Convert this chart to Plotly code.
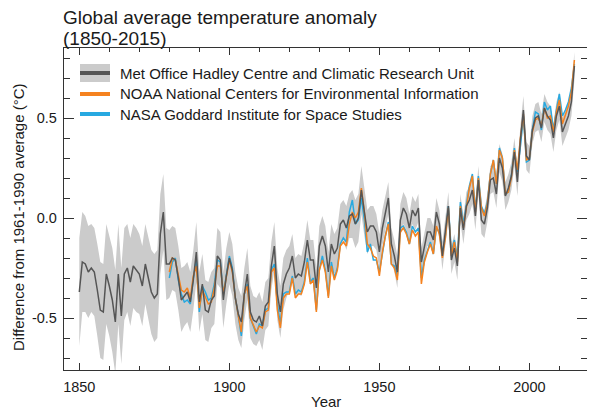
import plotly.graph_objects as go

# HadCRUT4 annual anomaly (deg C, vs 1961-1990), 1850-2015
had_years = list(range(1850, 2016))
had_vals = [
    -0.37, -0.22, -0.23, -0.27, -0.25, -0.27, -0.36, -0.46, -0.47, -0.28,
    -0.34, -0.41, -0.52, -0.28, -0.49, -0.28, -0.25, -0.32, -0.24, -0.26,
    -0.28, -0.34, -0.23, -0.30, -0.37, -0.40, -0.38, -0.08, 0.03, -0.23,
    -0.23, -0.20, -0.21, -0.30, -0.41, -0.39, -0.37, -0.42, -0.31, -0.17,
    -0.42, -0.33, -0.46, -0.47, -0.41, -0.39, -0.19, -0.21, -0.41, -0.29,
    -0.20, -0.26, -0.40, -0.48, -0.52, -0.38, -0.28, -0.47, -0.51, -0.52,
    -0.49, -0.54, -0.44, -0.42, -0.24, -0.14, -0.38, -0.47, -0.33, -0.28,
    -0.25, -0.19, -0.30, -0.28, -0.29, -0.22, -0.11, -0.21, -0.21, -0.35,
    -0.14, -0.09, -0.14, -0.27, -0.13, -0.18, -0.15, -0.03, -0.01, -0.05,
    0.01, 0.02, -0.03, 0.00, 0.14, 0.03, -0.07, -0.04, -0.04, -0.07,
    -0.17, -0.05, 0.03, 0.10, -0.13, -0.19, -0.27, -0.01, 0.05, 0.02,
    -0.05, 0.04, 0.01, 0.05, -0.22, -0.14, -0.07, -0.07, -0.11, 0.03,
    -0.03, -0.19, -0.07, 0.06, -0.21, -0.15, -0.24, 0.05, -0.06, 0.06,
    0.09, 0.14, 0.01, 0.19, -0.01, -0.03, 0.05, 0.19, 0.20, 0.12,
    0.30, 0.25, 0.11, 0.15, 0.21, 0.33, 0.18, 0.39, 0.54, 0.31,
    0.29, 0.44, 0.50, 0.51, 0.45, 0.55, 0.51, 0.49, 0.40, 0.51,
    0.56, 0.43, 0.47, 0.51, 0.58, 0.76,
]
# half width of the grey uncertainty band
had_unc = [
    0.27, 0.25, 0.24, 0.23, 0.22, 0.22, 0.23, 0.24, 0.24, 0.25,
    0.25, 0.26, 0.26, 0.25, 0.24, 0.23, 0.22, 0.22, 0.21, 0.21,
    0.20, 0.20, 0.20, 0.21, 0.21, 0.22, 0.22, 0.20, 0.19, 0.18,
    0.17, 0.16, 0.16, 0.16, 0.16, 0.15, 0.15, 0.15, 0.15, 0.15,
    0.15, 0.15, 0.15, 0.15, 0.14, 0.14, 0.14, 0.14, 0.14, 0.14,
    0.13, 0.13, 0.13, 0.13, 0.13, 0.13, 0.13, 0.13, 0.12, 0.12,
    0.12, 0.12, 0.12, 0.12, 0.12, 0.12, 0.13, 0.13, 0.13, 0.12,
    0.11, 0.11, 0.10, 0.10, 0.10, 0.10, 0.10, 0.10, 0.10, 0.10,
    0.10, 0.10, 0.10, 0.10, 0.10, 0.10, 0.10, 0.10, 0.10, 0.11,
    0.11, 0.12, 0.12, 0.12, 0.12, 0.12, 0.11, 0.10, 0.10, 0.09,
    0.09, 0.09, 0.09, 0.08, 0.08, 0.08, 0.08, 0.08, 0.08, 0.08,
    0.07, 0.07, 0.07, 0.07, 0.07, 0.07, 0.07, 0.07, 0.07, 0.07,
    0.07, 0.07, 0.07, 0.07, 0.07, 0.07, 0.07, 0.07, 0.07, 0.07,
    0.07, 0.07, 0.07, 0.07, 0.07, 0.07, 0.07, 0.07, 0.07, 0.07,
    0.07, 0.07, 0.07, 0.07, 0.07, 0.07, 0.07, 0.07, 0.07, 0.07,
    0.07, 0.07, 0.07, 0.07, 0.07, 0.07, 0.07, 0.07, 0.07, 0.07,
    0.07, 0.07, 0.07, 0.07, 0.07, 0.07,
]

# NOAA and NASA, 1880-2015, same baseline
nc_years = list(range(1880, 2016))
noaa_vals = [
    -0.27, -0.20, -0.21, -0.29, -0.36, -0.37, -0.35, -0.40, -0.29, -0.24,
    -0.45, -0.36, -0.40, -0.43, -0.42, -0.35, -0.24, -0.24, -0.38, -0.30,
    -0.21, -0.27, -0.40, -0.49, -0.57, -0.38, -0.34, -0.50, -0.54, -0.57,
    -0.54, -0.55, -0.47, -0.46, -0.27, -0.25, -0.46, -0.55, -0.40, -0.38,
    -0.38, -0.30, -0.40, -0.38, -0.38, -0.33, -0.22, -0.33, -0.31, -0.47,
    -0.26, -0.21, -0.27, -0.40, -0.24, -0.31, -0.26, -0.14, -0.12, -0.14,
    -0.03, 0.03, 0.00, 0.03, 0.15, 0.03, -0.13, -0.15, -0.19, -0.20,
    -0.29, -0.17, -0.09, -0.03, -0.23, -0.25, -0.31, -0.07, -0.05, -0.08,
    -0.13, -0.06, -0.09, -0.07, -0.33, -0.22, -0.17, -0.13, -0.18, -0.04,
    -0.08, -0.20, -0.10, 0.05, -0.19, -0.12, -0.22, 0.06, -0.05, 0.05,
    0.15, 0.21, 0.03, 0.20, 0.05, 0.01, 0.07, 0.22, 0.29, 0.17,
    0.34, 0.30, 0.12, 0.13, 0.20, 0.34, 0.24, 0.40, 0.52, 0.29,
    0.30, 0.43, 0.49, 0.50, 0.46, 0.55, 0.50, 0.51, 0.43, 0.53,
    0.59, 0.47, 0.51, 0.56, 0.63, 0.79,
]
nasa_vals = [
    -0.30, -0.22, -0.20, -0.31, -0.38, -0.42, -0.41, -0.43, -0.30, -0.21,
    -0.47, -0.34, -0.37, -0.41, -0.40, -0.33, -0.21, -0.22, -0.38, -0.28,
    -0.19, -0.25, -0.40, -0.49, -0.59, -0.38, -0.33, -0.50, -0.54, -0.58,
    -0.53, -0.54, -0.46, -0.45, -0.26, -0.23, -0.43, -0.53, -0.38, -0.37,
    -0.37, -0.29, -0.38, -0.36, -0.37, -0.32, -0.20, -0.32, -0.30, -0.46,
    -0.26, -0.19, -0.26, -0.39, -0.22, -0.30, -0.25, -0.13, -0.10, -0.12,
    0.03, 0.09, -0.03, -0.01, 0.10, -0.01, -0.17, -0.13, -0.21, -0.21,
    -0.27, -0.17, -0.09, -0.02, -0.23, -0.24, -0.29, -0.05, -0.04, -0.07,
    -0.13, -0.04, -0.07, -0.05, -0.30, -0.21, -0.16, -0.12, -0.18, -0.05,
    -0.07, -0.18, -0.09, 0.06, -0.17, -0.11, -0.20, 0.08, -0.03, 0.06,
    0.16, 0.22, 0.04, 0.21, 0.06, 0.02, 0.08, 0.22, 0.29, 0.17,
    0.35, 0.30, 0.12, 0.13, 0.21, 0.35, 0.23, 0.36, 0.51, 0.28,
    0.29, 0.44, 0.53, 0.52, 0.44, 0.58, 0.54, 0.56, 0.44, 0.54,
    0.62, 0.51, 0.54, 0.58, 0.65, 0.77,
]

series_names = [
    "Met Office Hadley Centre and Climatic Research Unit",
    "NOAA National Centers for Environmental Information",
    "NASA Goddard Institute for Space Studies",
]

GREY_BAND = "#cbcbcb"
GREY_LINE = "#555555"
ORANGE = "#f5821f"
BLUE = "#27a9e1"
TXT = "#1a1a1a"
AXC = "#333333"
FONT = "Liberation Sans, Arial, sans-serif"

X_RANGE = [1844.9, 2019.2]
Y_RANGE = [-0.76, 0.85]

had_hi = [v + u for v, u in zip(had_vals, had_unc)]
had_lo = [v - u for v, u in zip(had_vals, had_unc)]

fig = go.Figure()
fig.add_trace(go.Scatter(x=had_years, y=had_hi, mode="lines",
                         line=dict(width=0, color=GREY_BAND),
                         showlegend=False, hoverinfo="skip"))
fig.add_trace(go.Scatter(x=had_years, y=had_lo, mode="lines",
                         line=dict(width=0, color=GREY_BAND),
                         fill="tonexty", fillcolor=GREY_BAND,
                         showlegend=False, hoverinfo="skip"))
fig.add_trace(go.Scatter(x=nc_years, y=nasa_vals, mode="lines",
                         line=dict(width=1.5, color=BLUE),
                         name=series_names[2], showlegend=False))
fig.add_trace(go.Scatter(x=nc_years, y=noaa_vals, mode="lines",
                         line=dict(width=1.5, color=ORANGE),
                         name=series_names[1], showlegend=False))
fig.add_trace(go.Scatter(x=had_years, y=had_vals, mode="lines",
                         line=dict(width=1.5, color=GREY_LINE),
                         name=series_names[0], showlegend=False))
# empty trace so the mirrored top/right axes get drawn (with minor ticks)
fig.add_trace(go.Scatter(x=[None], y=[None], xaxis="x2", yaxis="y2",
                         showlegend=False, hoverinfo="skip"))

# the page body keeps its default 8px margin, so the figure is drawn 8px in
# from the window corner; size it to fit and place things in window pixels
OFF = 8
W, H = 595 - OFF, 414 - OFF
ml, mr, mt, mb = 64 - OFF, W - (587 - OFF), 48 - OFF, H - (370 - OFF)
pw, ph = W - ml - mr, H - mt - mb


def px(x):
    return (x - OFF - ml) / pw


def py(y):
    return 1 - (y - OFF - mt) / ph


rows = [73, 94, 114]
swatch_cols = [GREY_LINE, ORANGE, BLUE]
shapes = [dict(type="rect", xref="paper", yref="paper",
               x0=px(80), x1=px(110), y0=py(rows[0] + 9), y1=py(rows[0] - 9),
               fillcolor=GREY_BAND, line=dict(width=0), layer="above")]
for r, c in zip(rows, swatch_cols):
    shapes.append(dict(type="line", xref="paper", yref="paper",
                       x0=px(80), x1=px(110), y0=py(r), y1=py(r),
                       line=dict(color=c, width=4), layer="above"))
annotations = []
for r, name in zip(rows, series_names):
    annotations.append(dict(text=name, xref="paper", yref="paper",
                            x=px(118), y=py(r), xanchor="left", yanchor="middle",
                            showarrow=False, font=dict(size=15, color=TXT, family=FONT)))

# title, two lines set close together
annotations.append(dict(text="Global average temperature anomaly", xref="paper", yref="paper",
                        x=px(62), y=py(18), xanchor="left", yanchor="middle", borderpad=0,
                        showarrow=False, font=dict(size=19, color=TXT, family=FONT)))
annotations.append(dict(text="(1850-2015)", xref="paper", yref="paper",
                        x=px(62), y=py(38), xanchor="left", yanchor="middle", borderpad=0,
                        showarrow=False, font=dict(size=19, color=TXT, family=FONT)))
# axis titles
annotations.append(dict(text="Year", xref="paper", yref="paper",
                        x=0.5, y=py(401), xanchor="center", yanchor="middle",
                        showarrow=False, font=dict(size=15, color=TXT, family=FONT)))
annotations.append(dict(text="Difference from 1961-1990 average (°C)", xref="paper", yref="paper",
                        x=px(18), y=py(217), xanchor="center", yanchor="middle", textangle=-90,
                        showarrow=False, font=dict(size=15, color=TXT, family=FONT)))

axis_common = dict(
    showline=True, linecolor=AXC, linewidth=1.3,
    ticks="inside", tickcolor=AXC, tickwidth=1.2,
    showgrid=False, zeroline=False, automargin=False,
    tickfont=dict(size=14.5, color=TXT, family=FONT),
)
x_ticks = dict(range=X_RANGE, tickvals=[1850, 1900, 1950, 2000], ticklen=7,
               minor=dict(dtick=10, tick0=1850, ticks="inside", ticklen=4,
                          tickcolor=AXC, tickwidth=1.2))
y_ticks = dict(range=Y_RANGE, tickvals=[-0.5, 0.0, 0.5], ticklen=10,
               minor=dict(dtick=0.1, tick0=0, ticks="inside", ticklen=6,
                          tickcolor=AXC, tickwidth=1.2))

fig.update_layout(
    width=W, height=H,
    margin=dict(l=ml, r=mr, t=mt, b=mb),
    paper_bgcolor="white", plot_bgcolor="white",
    showlegend=False,
    shapes=shapes, annotations=annotations,
    xaxis=dict(axis_common, **x_ticks, ticklabelstandoff=3),
    yaxis=dict(axis_common, **y_ticks, ticktext=["-0.5", "0.0", "0.5"], ticklabelstandoff=3),
    xaxis2=dict(axis_common, **x_ticks, overlaying="x", side="top", showticklabels=False),
    yaxis2=dict(axis_common, **y_ticks, overlaying="y", side="right", showticklabels=False),
)

fig.write_html("out.html")
